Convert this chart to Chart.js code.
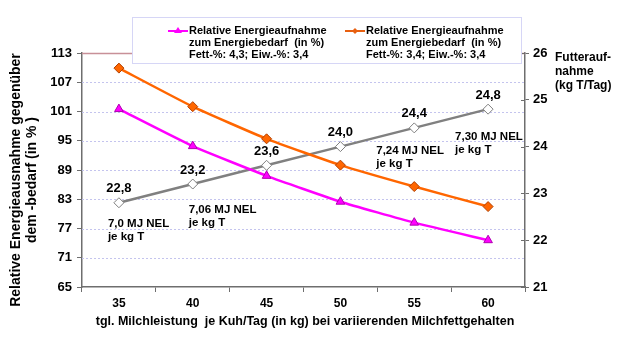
<!DOCTYPE html>
<html>
<head>
<meta charset="utf-8">
<script src="https://cdn.jsdelivr.net/npm/chart.js@4.4.0/dist/chart.umd.min.js"></script>
<style>
  body { margin: 0; background: #fff; }
  #wrap { width: 630px; height: 341px; }
</style>
</head>
<body>
<div id="wrap"><canvas id="myChart" width="630" height="341"></canvas></div>
<script>
// DATA
const milkYield = ["35", "40", "45", "50", "55", "60"];
const energyFat43 = [101.5, 93.9, 87.8, 82.5, 78.2, 74.6];
const energyFat34 = [109.9, 102.0, 95.4, 90.0, 85.6, 81.5];
const feedIntake = [22.8, 23.2, 23.6, 24.0, 24.4, 24.8];
const feedLabels = ["22,8", "23,2", "23,6", "24,0", "24,4", "24,8"];
const leftTicks = [65, 71, 77, 83, 89, 95, 101, 107, 113];
const rightTicks = [21, 22, 23, 24, 25, 26];
const nelNotes = [
  { at: 0, lines: ["7,0 MJ NEL", "je kg T"] },
  { at: 1, lines: ["7,06 MJ NEL", "je kg T"] },
  { at: 4, lines: ["7,24 MJ NEL", "je kg T"] },
  { at: 5, lines: ["7,30 MJ NEL", "je kg T"] },
];
const legendTexts = [
  ["Relative Energieaufnahme", "zum Energiebedarf  (in %)", "Fett-%: 4,3; Eiw.-%: 3,4"],
  ["Relative Energieaufnahme", "zum Energiebedarf  (in %)", "Fett-%: 3,4; Eiw.-%: 3,4"],
];

const FONT = "Liberation Sans, Arial, sans-serif";
const MAGENTA = "#ff00ff";
const ORANGE = "#ff6600";
const GRAY = "#808080";
const AXIS = "#6e6e6e";

// GRID LINES (dotted, drawn under the data)
const gridLines = {
  id: "gridLines",
  beforeDatasetsDraw(chart) {
    const c = chart.ctx;
    const ys = chart.scales.y;
    const area = chart.chartArea;
    c.save();
    leftTicks.forEach((v) => {
      if (v === 65) return;
      const py = Math.round(ys.getPixelForValue(v)) + 0.5;
      c.beginPath();
      if (v === 113) {
        c.strokeStyle = "#c89098";
        c.setLineDash([]);
        c.lineWidth = 1.5;
      } else {
        c.strokeStyle = "#c4c4ee";
        c.setLineDash([2, 2]);
        c.lineWidth = 1;
      }
      c.moveTo(area.left, py);
      c.lineTo(area.right, py);
      c.stroke();
    });
    c.restore();
  },
};

// EXTRA DRAWING (legend box, labels, titles)
const extras = {
  id: "extras",
  afterDraw(chart) {
    const c = chart.ctx;
    const xs = chart.scales.x;
    const y1 = chart.scales.y1;
    const area = chart.chartArea;
    c.save();

    // right axis ticks crossing the axis
    c.strokeStyle = AXIS;
    c.lineWidth = 1;
    rightTicks.forEach((v) => {
      const py = Math.round(y1.getPixelForValue(v)) + 0.5;
      c.beginPath();
      c.moveTo(area.right - 4, py);
      c.lineTo(area.right, py);
      c.stroke();
    });

    // gray data labels
    c.fillStyle = "#000";
    c.font = "bold 13px " + FONT;
    c.textAlign = "center";
    c.textBaseline = "middle";
    feedIntake.forEach((v, i) => {
      c.fillText(feedLabels[i], xs.getPixelForValue(i), y1.getPixelForValue(v) - 14);
    });

    // NEL notes
    c.font = "bold 11.5px " + FONT;
    c.textAlign = "left";
    nelNotes.forEach((n) => {
      const px = xs.getPixelForValue(n.at);
      const py = y1.getPixelForValue(feedIntake[n.at]);
      let ox = -11, oy = 21;
      if (n.at === 1) { ox = -4; oy = 26; }
      if (n.at === 4) { ox = -38; oy = 23; }
      if (n.at === 5) { ox = -33; oy = 28; }
      n.lines.forEach((t, k) => c.fillText(t, px + ox, py + oy + k * 13));
    });

    // legend box
    c.fillStyle = "#fff";
    c.fillRect(132, 17, 389, 47);
    c.strokeStyle = "#d6d6f6";
    c.lineWidth = 1;
    c.strokeRect(132.5, 17.5, 389, 46);

    const drawEntry = (x, color, marker, texts) => {
      c.strokeStyle = color;
      c.lineWidth = 2;
      c.beginPath();
      c.moveTo(x, 31);
      c.lineTo(x + 20, 31);
      c.stroke();
      c.fillStyle = color;
      c.beginPath();
      if (marker === "tri") {
        c.moveTo(x + 10, 27); c.lineTo(x + 14, 33); c.lineTo(x + 6, 33);
      } else {
        c.moveTo(x + 10, 28); c.lineTo(x + 13, 31); c.lineTo(x + 10, 34); c.lineTo(x + 7, 31);
      }
      c.closePath();
      c.fill();
      c.fillStyle = "#000";
      c.font = "bold 11px " + FONT;
      c.textAlign = "left";
      c.textBaseline = "middle";
      texts.forEach((t, k) => c.fillText(t, x + 21, 31 + k * 12));
    };
    drawEntry(168, MAGENTA, "tri", legendTexts[0]);
    drawEntry(345, "#e86010", "dia", legendTexts[1]);

    // left axis title
    c.fillStyle = "#000";
    c.font = "bold 14px " + FONT;
    c.textAlign = "center";
    c.textBaseline = "middle";
    c.translate(16, 180);
    c.rotate(-Math.PI / 2);
    c.fillText("Relative Energieausnahme gegenüber", 0, 0);
    c.fillText("dem -bedarf (in % )", 0, 16);
    c.restore();

    // right axis title
    c.save();
    c.fillStyle = "#000";
    c.font = "bold 12px " + FONT;
    c.textAlign = "left";
    c.textBaseline = "middle";
    ["Futterauf-", "nahme", "(kg T/Tag)"].forEach((t, k) => c.fillText(t, 555, 58 + k * 14));

    // x axis title
    c.font = "bold 12.5px " + FONT;
    c.textAlign = "center";
    c.fillText("tgl. Milchleistung  je Kuh/Tag (in kg) bei variierenden Milchfettgehalten", 305, 322);
    c.restore();
  },
};

const ctx = document.getElementById("myChart").getContext("2d");
const myChartObj = new Chart(ctx, {
  type: "line",
  data: {
    labels: milkYield,
    datasets: [
      {
        label: "Fett 4,3",
        data: energyFat43,
        yAxisID: "y",
        borderColor: MAGENTA,
        backgroundColor: MAGENTA,
        borderWidth: 2.5,
        pointStyle: "triangle",
        pointRadius: 5,
        pointBorderColor: "#b000b0",
        pointBorderWidth: 1,
        tension: 0.15,
      },
      {
        label: "Fett 3,4",
        data: energyFat34,
        yAxisID: "y",
        borderColor: ORANGE,
        backgroundColor: ORANGE,
        borderWidth: 2.5,
        pointStyle: "rectRot",
        pointRadius: 5,
        pointBorderColor: "#b04000",
        pointBorderWidth: 1,
        tension: 0.15,
      },
      {
        label: "Futteraufnahme",
        data: feedIntake,
        yAxisID: "y1",
        borderColor: GRAY,
        backgroundColor: "#fff",
        borderWidth: 2.5,
        pointStyle: "rectRot",
        pointRadius: 5,
        pointBorderColor: "#808080",
        pointBorderWidth: 1,
      },
    ],
  },
  options: {
    responsive: false,
    animation: false,
    layout: { padding: { left: 0, right: 0, top: 53, bottom: 0 } },
    plugins: { legend: { display: false }, tooltip: { enabled: false } },
    scales: {
      x: {
        offset: true,
        afterFit: (s) => { s.height = 54; },
        grid: { offset: true, drawOnChartArea: false, color: AXIS, tickLength: 5 },
        border: { color: AXIS, width: 1.5 },
        ticks: { color: "#000", font: { family: FONT, size: 12, weight: "bold" }, padding: 4 },
      },
      y: {
        position: "left",
        min: 65,
        max: 113,
        afterFit: (s) => { s.width = 82; },
        afterBuildTicks: (s) => {
          s.ticks = leftTicks.map((v) => ({ value: v }));
        },
        grid: { drawOnChartArea: false, color: AXIS, tickLength: 5 },
        border: { color: AXIS, width: 1.5 },
        ticks: { color: "#000", font: { family: FONT, size: 13, weight: "bold" }, padding: 5 },
      },
      y1: {
        position: "right",
        min: 21,
        max: 26,
        afterFit: (s) => { s.width = 105; },
        afterBuildTicks: (s) => {
          s.ticks = rightTicks.map((v) => ({ value: v }));
        },
        grid: { drawOnChartArea: false, color: AXIS, tickLength: 4 },
        border: { color: AXIS, width: 1.5 },
        ticks: { color: "#000", font: { family: FONT, size: 13, weight: "bold" }, padding: 4 },
      },
    },
  },
  plugins: [gridLines, extras],
});
</script>
</body>
</html>
